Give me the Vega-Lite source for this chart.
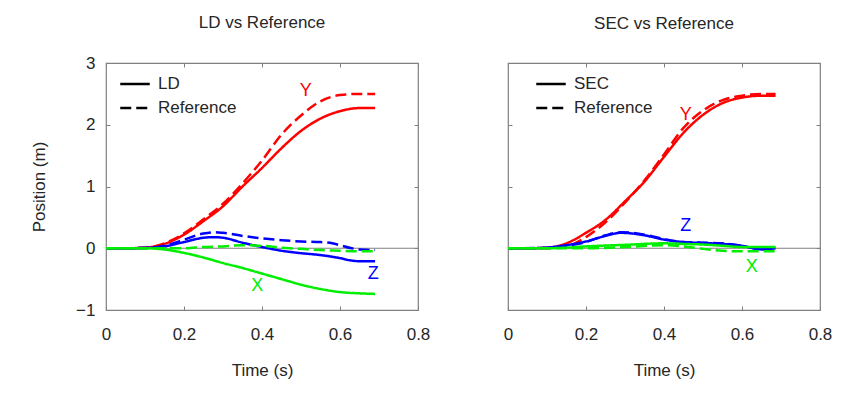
{
  "$schema": "https://vega.github.io/schema/vega-lite/v6.json",
  "padding": {"left": 30, "top": 13, "right": 5, "bottom": 5},
  "spacing": 71,
  "config": {
    "font": "Liberation Sans",
    "view": {"stroke": "#808080", "strokeWidth": 1.2},
    "axis": {
      "domain": false,
      "grid": false,
      "tickColor": "#808080",
      "tickSize": -4,
      "labelFlush": false,
      "labelFontSize": 17,
      "labelColor": "#262626",
      "titleFontSize": 17,
      "titleFontWeight": "normal",
      "titleColor": "#262626"
    },
    "title": {"fontSize": 17, "fontWeight": "normal", "color": "#262626"},
    "legend": {
      "labelFontSize": 17,
      "labelColor": "#262626",
      "labelOffset": 7,
      "symbolType": "stroke",
      "symbolStrokeColor": "black",
      "symbolStrokeWidth": 2.5,
      "symbolSize": 870,
      "rowPadding": 0,
      "title": null
    }
  },
  "datasets": {
    "ld": [
      {"t": 0, "v": 0, "comp": "Y", "kind": "LD"},
      {"t": 0.05, "v": 0, "comp": "Y", "kind": "LD"},
      {"t": 0.1, "v": 0.01, "comp": "Y", "kind": "LD"},
      {"t": 0.15, "v": 0.07, "comp": "Y", "kind": "LD"},
      {"t": 0.2, "v": 0.22, "comp": "Y", "kind": "LD"},
      {"t": 0.25, "v": 0.44, "comp": "Y", "kind": "LD"},
      {"t": 0.3, "v": 0.68, "comp": "Y", "kind": "LD"},
      {"t": 0.35, "v": 1.0, "comp": "Y", "kind": "LD"},
      {"t": 0.4, "v": 1.3, "comp": "Y", "kind": "LD"},
      {"t": 0.45, "v": 1.62, "comp": "Y", "kind": "LD"},
      {"t": 0.5, "v": 1.9, "comp": "Y", "kind": "LD"},
      {"t": 0.55, "v": 2.1, "comp": "Y", "kind": "LD"},
      {"t": 0.6, "v": 2.22, "comp": "Y", "kind": "LD"},
      {"t": 0.65, "v": 2.27, "comp": "Y", "kind": "LD"},
      {"t": 0.69, "v": 2.27, "comp": "Y", "kind": "LD"},
      {"t": 0, "v": 0, "comp": "Y", "kind": "Reference"},
      {"t": 0.05, "v": 0, "comp": "Y", "kind": "Reference"},
      {"t": 0.1, "v": 0.01, "comp": "Y", "kind": "Reference"},
      {"t": 0.15, "v": 0.08, "comp": "Y", "kind": "Reference"},
      {"t": 0.2, "v": 0.24, "comp": "Y", "kind": "Reference"},
      {"t": 0.25, "v": 0.47, "comp": "Y", "kind": "Reference"},
      {"t": 0.3, "v": 0.72, "comp": "Y", "kind": "Reference"},
      {"t": 0.35, "v": 1.05, "comp": "Y", "kind": "Reference"},
      {"t": 0.4, "v": 1.42, "comp": "Y", "kind": "Reference"},
      {"t": 0.45, "v": 1.84, "comp": "Y", "kind": "Reference"},
      {"t": 0.5, "v": 2.15, "comp": "Y", "kind": "Reference"},
      {"t": 0.55, "v": 2.38, "comp": "Y", "kind": "Reference"},
      {"t": 0.6, "v": 2.48, "comp": "Y", "kind": "Reference"},
      {"t": 0.65, "v": 2.5, "comp": "Y", "kind": "Reference"},
      {"t": 0.69, "v": 2.5, "comp": "Y", "kind": "Reference"},
      {"t": 0, "v": 0, "comp": "Z", "kind": "LD"},
      {"t": 0.05, "v": 0, "comp": "Z", "kind": "LD"},
      {"t": 0.1, "v": 0.005, "comp": "Z", "kind": "LD"},
      {"t": 0.15, "v": 0.03, "comp": "Z", "kind": "LD"},
      {"t": 0.2, "v": 0.1, "comp": "Z", "kind": "LD"},
      {"t": 0.25, "v": 0.17, "comp": "Z", "kind": "LD"},
      {"t": 0.275, "v": 0.18, "comp": "Z", "kind": "LD"},
      {"t": 0.3, "v": 0.17, "comp": "Z", "kind": "LD"},
      {"t": 0.35, "v": 0.09, "comp": "Z", "kind": "LD"},
      {"t": 0.4, "v": 0.02, "comp": "Z", "kind": "LD"},
      {"t": 0.45, "v": -0.04, "comp": "Z", "kind": "LD"},
      {"t": 0.5, "v": -0.08, "comp": "Z", "kind": "LD"},
      {"t": 0.55, "v": -0.11, "comp": "Z", "kind": "LD"},
      {"t": 0.6, "v": -0.16, "comp": "Z", "kind": "LD"},
      {"t": 0.63, "v": -0.2, "comp": "Z", "kind": "LD"},
      {"t": 0.65, "v": -0.21, "comp": "Z", "kind": "LD"},
      {"t": 0.69, "v": -0.21, "comp": "Z", "kind": "LD"},
      {"t": 0, "v": 0, "comp": "Z", "kind": "Reference"},
      {"t": 0.05, "v": 0, "comp": "Z", "kind": "Reference"},
      {"t": 0.1, "v": 0.005, "comp": "Z", "kind": "Reference"},
      {"t": 0.15, "v": 0.04, "comp": "Z", "kind": "Reference"},
      {"t": 0.2, "v": 0.14, "comp": "Z", "kind": "Reference"},
      {"t": 0.25, "v": 0.24, "comp": "Z", "kind": "Reference"},
      {"t": 0.28, "v": 0.26, "comp": "Z", "kind": "Reference"},
      {"t": 0.3, "v": 0.25, "comp": "Z", "kind": "Reference"},
      {"t": 0.35, "v": 0.2, "comp": "Z", "kind": "Reference"},
      {"t": 0.4, "v": 0.16, "comp": "Z", "kind": "Reference"},
      {"t": 0.45, "v": 0.13, "comp": "Z", "kind": "Reference"},
      {"t": 0.5, "v": 0.11, "comp": "Z", "kind": "Reference"},
      {"t": 0.55, "v": 0.1, "comp": "Z", "kind": "Reference"},
      {"t": 0.58, "v": 0.08, "comp": "Z", "kind": "Reference"},
      {"t": 0.6, "v": 0.05, "comp": "Z", "kind": "Reference"},
      {"t": 0.63, "v": 0.0, "comp": "Z", "kind": "Reference"},
      {"t": 0.65, "v": -0.02, "comp": "Z", "kind": "Reference"},
      {"t": 0.69, "v": -0.03, "comp": "Z", "kind": "Reference"},
      {"t": 0, "v": 0, "comp": "X", "kind": "LD"},
      {"t": 0.05, "v": 0, "comp": "X", "kind": "LD"},
      {"t": 0.1, "v": 0, "comp": "X", "kind": "LD"},
      {"t": 0.12, "v": -0.003, "comp": "X", "kind": "LD"},
      {"t": 0.15, "v": -0.02, "comp": "X", "kind": "LD"},
      {"t": 0.2, "v": -0.075, "comp": "X", "kind": "LD"},
      {"t": 0.25, "v": -0.15, "comp": "X", "kind": "LD"},
      {"t": 0.3, "v": -0.24, "comp": "X", "kind": "LD"},
      {"t": 0.35, "v": -0.32, "comp": "X", "kind": "LD"},
      {"t": 0.4, "v": -0.41, "comp": "X", "kind": "LD"},
      {"t": 0.45, "v": -0.5, "comp": "X", "kind": "LD"},
      {"t": 0.5, "v": -0.59, "comp": "X", "kind": "LD"},
      {"t": 0.55, "v": -0.66, "comp": "X", "kind": "LD"},
      {"t": 0.6, "v": -0.71, "comp": "X", "kind": "LD"},
      {"t": 0.65, "v": -0.73, "comp": "X", "kind": "LD"},
      {"t": 0.69, "v": -0.74, "comp": "X", "kind": "LD"},
      {"t": 0, "v": 0, "comp": "X", "kind": "Reference"},
      {"t": 0.1, "v": 0, "comp": "X", "kind": "Reference"},
      {"t": 0.2, "v": 0.0, "comp": "X", "kind": "Reference"},
      {"t": 0.25, "v": 0.02, "comp": "X", "kind": "Reference"},
      {"t": 0.3, "v": 0.03, "comp": "X", "kind": "Reference"},
      {"t": 0.35, "v": 0.05, "comp": "X", "kind": "Reference"},
      {"t": 0.4, "v": 0.04, "comp": "X", "kind": "Reference"},
      {"t": 0.45, "v": 0.01, "comp": "X", "kind": "Reference"},
      {"t": 0.5, "v": -0.01, "comp": "X", "kind": "Reference"},
      {"t": 0.55, "v": -0.03, "comp": "X", "kind": "Reference"},
      {"t": 0.6, "v": -0.04, "comp": "X", "kind": "Reference"},
      {"t": 0.65, "v": -0.05, "comp": "X", "kind": "Reference"},
      {"t": 0.69, "v": -0.05, "comp": "X", "kind": "Reference"}
    ],
    "sec": [
      {"t": 0, "v": 0, "comp": "Y", "kind": "SEC"},
      {"t": 0.05, "v": 0, "comp": "Y", "kind": "SEC"},
      {"t": 0.1, "v": 0.01, "comp": "Y", "kind": "SEC"},
      {"t": 0.15, "v": 0.08, "comp": "Y", "kind": "SEC"},
      {"t": 0.2, "v": 0.25, "comp": "Y", "kind": "SEC"},
      {"t": 0.25, "v": 0.46, "comp": "Y", "kind": "SEC"},
      {"t": 0.3, "v": 0.76, "comp": "Y", "kind": "SEC"},
      {"t": 0.35, "v": 1.08, "comp": "Y", "kind": "SEC"},
      {"t": 0.4, "v": 1.48, "comp": "Y", "kind": "SEC"},
      {"t": 0.45, "v": 1.87, "comp": "Y", "kind": "SEC"},
      {"t": 0.5, "v": 2.16, "comp": "Y", "kind": "SEC"},
      {"t": 0.55, "v": 2.35, "comp": "Y", "kind": "SEC"},
      {"t": 0.6, "v": 2.44, "comp": "Y", "kind": "SEC"},
      {"t": 0.65, "v": 2.47, "comp": "Y", "kind": "SEC"},
      {"t": 0.686, "v": 2.47, "comp": "Y", "kind": "SEC"},
      {"t": 0, "v": 0, "comp": "Y", "kind": "Reference"},
      {"t": 0.1, "v": 0.0, "comp": "Y", "kind": "Reference"},
      {"t": 0.15, "v": 0.03, "comp": "Y", "kind": "Reference"},
      {"t": 0.2, "v": 0.18, "comp": "Y", "kind": "Reference"},
      {"t": 0.25, "v": 0.42, "comp": "Y", "kind": "Reference"},
      {"t": 0.3, "v": 0.74, "comp": "Y", "kind": "Reference"},
      {"t": 0.35, "v": 1.1, "comp": "Y", "kind": "Reference"},
      {"t": 0.4, "v": 1.52, "comp": "Y", "kind": "Reference"},
      {"t": 0.45, "v": 1.95, "comp": "Y", "kind": "Reference"},
      {"t": 0.5, "v": 2.23, "comp": "Y", "kind": "Reference"},
      {"t": 0.55, "v": 2.4, "comp": "Y", "kind": "Reference"},
      {"t": 0.6, "v": 2.47, "comp": "Y", "kind": "Reference"},
      {"t": 0.65, "v": 2.5, "comp": "Y", "kind": "Reference"},
      {"t": 0.686, "v": 2.5, "comp": "Y", "kind": "Reference"},
      {"t": 0, "v": 0, "comp": "Z", "kind": "SEC"},
      {"t": 0.05, "v": 0, "comp": "Z", "kind": "SEC"},
      {"t": 0.1, "v": 0.01, "comp": "Z", "kind": "SEC"},
      {"t": 0.15, "v": 0.05, "comp": "Z", "kind": "SEC"},
      {"t": 0.2, "v": 0.11, "comp": "Z", "kind": "SEC"},
      {"t": 0.25, "v": 0.2, "comp": "Z", "kind": "SEC"},
      {"t": 0.29, "v": 0.25, "comp": "Z", "kind": "SEC"},
      {"t": 0.35, "v": 0.21, "comp": "Z", "kind": "SEC"},
      {"t": 0.4, "v": 0.14, "comp": "Z", "kind": "SEC"},
      {"t": 0.45, "v": 0.1, "comp": "Z", "kind": "SEC"},
      {"t": 0.5, "v": 0.085, "comp": "Z", "kind": "SEC"},
      {"t": 0.55, "v": 0.07, "comp": "Z", "kind": "SEC"},
      {"t": 0.6, "v": 0.04, "comp": "Z", "kind": "SEC"},
      {"t": 0.63, "v": 0.0, "comp": "Z", "kind": "SEC"},
      {"t": 0.655, "v": -0.02, "comp": "Z", "kind": "SEC"},
      {"t": 0.686, "v": 0.0, "comp": "Z", "kind": "SEC"},
      {"t": 0, "v": 0, "comp": "Z", "kind": "Reference"},
      {"t": 0.1, "v": 0.005, "comp": "Z", "kind": "Reference"},
      {"t": 0.15, "v": 0.04, "comp": "Z", "kind": "Reference"},
      {"t": 0.2, "v": 0.1, "comp": "Z", "kind": "Reference"},
      {"t": 0.25, "v": 0.21, "comp": "Z", "kind": "Reference"},
      {"t": 0.29, "v": 0.26, "comp": "Z", "kind": "Reference"},
      {"t": 0.35, "v": 0.22, "comp": "Z", "kind": "Reference"},
      {"t": 0.4, "v": 0.15, "comp": "Z", "kind": "Reference"},
      {"t": 0.45, "v": 0.1, "comp": "Z", "kind": "Reference"},
      {"t": 0.5, "v": 0.09, "comp": "Z", "kind": "Reference"},
      {"t": 0.55, "v": 0.08, "comp": "Z", "kind": "Reference"},
      {"t": 0.6, "v": 0.04, "comp": "Z", "kind": "Reference"},
      {"t": 0.64, "v": -0.01, "comp": "Z", "kind": "Reference"},
      {"t": 0.686, "v": -0.01, "comp": "Z", "kind": "Reference"},
      {"t": 0, "v": 0, "comp": "X", "kind": "SEC"},
      {"t": 0.1, "v": 0, "comp": "X", "kind": "SEC"},
      {"t": 0.15, "v": 0.01, "comp": "X", "kind": "SEC"},
      {"t": 0.2, "v": 0.03, "comp": "X", "kind": "SEC"},
      {"t": 0.3, "v": 0.055, "comp": "X", "kind": "SEC"},
      {"t": 0.4, "v": 0.08, "comp": "X", "kind": "SEC"},
      {"t": 0.45, "v": 0.07, "comp": "X", "kind": "SEC"},
      {"t": 0.5, "v": 0.06, "comp": "X", "kind": "SEC"},
      {"t": 0.55, "v": 0.04, "comp": "X", "kind": "SEC"},
      {"t": 0.6, "v": 0.02, "comp": "X", "kind": "SEC"},
      {"t": 0.686, "v": 0.02, "comp": "X", "kind": "SEC"},
      {"t": 0, "v": 0, "comp": "X", "kind": "Reference"},
      {"t": 0.15, "v": 0, "comp": "X", "kind": "Reference"},
      {"t": 0.2, "v": 0.0, "comp": "X", "kind": "Reference"},
      {"t": 0.3, "v": 0.02, "comp": "X", "kind": "Reference"},
      {"t": 0.4, "v": 0.05, "comp": "X", "kind": "Reference"},
      {"t": 0.45, "v": 0.03, "comp": "X", "kind": "Reference"},
      {"t": 0.5, "v": -0.01, "comp": "X", "kind": "Reference"},
      {"t": 0.55, "v": -0.04, "comp": "X", "kind": "Reference"},
      {"t": 0.6, "v": -0.05, "comp": "X", "kind": "Reference"},
      {"t": 0.686, "v": -0.05, "comp": "X", "kind": "Reference"}
    ],
    "labL": [
      {"t": 0.512, "v": 2.54, "comp": "Y"},
      {"t": 0.685, "v": -0.42, "comp": "Z"},
      {"t": 0.388, "v": -0.61, "comp": "X"}
    ],
    "labR": [
      {"t": 0.456, "v": 2.15, "comp": "Y"},
      {"t": 0.456, "v": 0.36, "comp": "Z"},
      {"t": 0.625, "v": -0.31, "comp": "X"}
    ],
    "zero": [{"z": 0}]
  },
  "resolve": {"scale": {"strokeDash": "independent"}, "legend": {"strokeDash": "independent"}},
  "hconcat": [
    {
      "title": {"text": "LD vs Reference", "offset": 22},
      "width": 312,
      "height": 247,
      "resolve": {"axis": {"x": "independent", "y": "independent"}},
      "layer": [
        {
          "data": {"name": "zero"},
          "mark": {"type": "rule", "color": "#808080", "strokeWidth": 1.2},
          "encoding": {
            "y": {"field": "z", "type": "quantitative", "scale": {"domain": [-1, 3]},
              "axis": {"title": "Position (m)", "values": [-1, 0, 1, 2, 3], "labelPadding": 15, "titlePadding": 27}}
          }
        },
        {
          "data": {"name": "ld"},
          "mark": {"type": "line", "strokeWidth": 2.5, "interpolate": "monotone"},
          "encoding": {
            "x": {"field": "t", "type": "quantitative", "scale": {"domain": [0, 0.8]},
              "axis": {"title": "Time (s)", "values": [0, 0.2, 0.4, 0.6, 0.8], "format": ".1~f", "labelPadding": 20, "titlePadding": 20}},
            "y": {"field": "v", "type": "quantitative", "axis": null},
            "color": {"field": "comp", "type": "nominal", "scale": {"domain": ["X", "Y", "Z"], "range": ["#00ee00", "#ff0000", "#0000ff"]}, "legend": null},
            "strokeDash": {"field": "kind", "type": "nominal", "scale": {"domain": ["LD", "Reference"], "range": [[1, 0], [11, 5]]},
              "legend": {"orient": "none", "legendX": 13, "legendY": 5}}
          }
        },
        {
          "data": {"name": "labL"},
          "mark": {"type": "text", "fontSize": 18},
          "encoding": {
            "x": {"field": "t", "type": "quantitative", "axis": {"orient": "top", "labels": false, "title": null, "values": [0, 0.2, 0.4, 0.6, 0.8]}},
            "y": {"field": "v", "type": "quantitative", "axis": {"orient": "right", "labels": false, "title": null, "values": [-1, 0, 1, 2, 3]}},
            "text": {"field": "comp"},
            "color": {"field": "comp", "type": "nominal", "legend": null}
          }
        }
      ]
    },
    {
      "title": {"text": "SEC vs Reference", "offset": 30},
      "width": 312,
      "height": 247,
      "resolve": {"axis": {"x": "independent", "y": "independent"}},
      "layer": [
        {
          "data": {"name": "zero"},
          "mark": {"type": "rule", "color": "#808080", "strokeWidth": 1.2},
          "encoding": {
            "y": {"field": "z", "type": "quantitative", "scale": {"domain": [-1, 3]},
              "axis": {"title": null, "labels": false, "values": [-1, 0, 1, 2, 3]}}
          }
        },
        {
          "data": {"name": "sec"},
          "mark": {"type": "line", "strokeWidth": 2.5, "interpolate": "monotone"},
          "encoding": {
            "x": {"field": "t", "type": "quantitative", "scale": {"domain": [0, 0.8]},
              "axis": {"title": "Time (s)", "values": [0, 0.2, 0.4, 0.6, 0.8], "format": ".1~f", "labelPadding": 20, "titlePadding": 20}},
            "y": {"field": "v", "type": "quantitative", "axis": null},
            "color": {"field": "comp", "type": "nominal", "scale": {"domain": ["X", "Y", "Z"], "range": ["#00ee00", "#ff0000", "#0000ff"]}, "legend": null},
            "strokeDash": {"field": "kind", "type": "nominal", "scale": {"domain": ["SEC", "Reference"], "range": [[1, 0], [11, 5]]},
              "legend": {"orient": "none", "legendX": 27, "legendY": 5}}
          }
        },
        {
          "data": {"name": "labR"},
          "mark": {"type": "text", "fontSize": 18},
          "encoding": {
            "x": {"field": "t", "type": "quantitative", "axis": {"orient": "top", "labels": false, "title": null, "values": [0, 0.2, 0.4, 0.6, 0.8]}},
            "y": {"field": "v", "type": "quantitative", "axis": {"orient": "right", "labels": false, "title": null, "values": [-1, 0, 1, 2, 3]}},
            "text": {"field": "comp"},
            "color": {"field": "comp", "type": "nominal", "legend": null}
          }
        }
      ]
    }
  ]
}
